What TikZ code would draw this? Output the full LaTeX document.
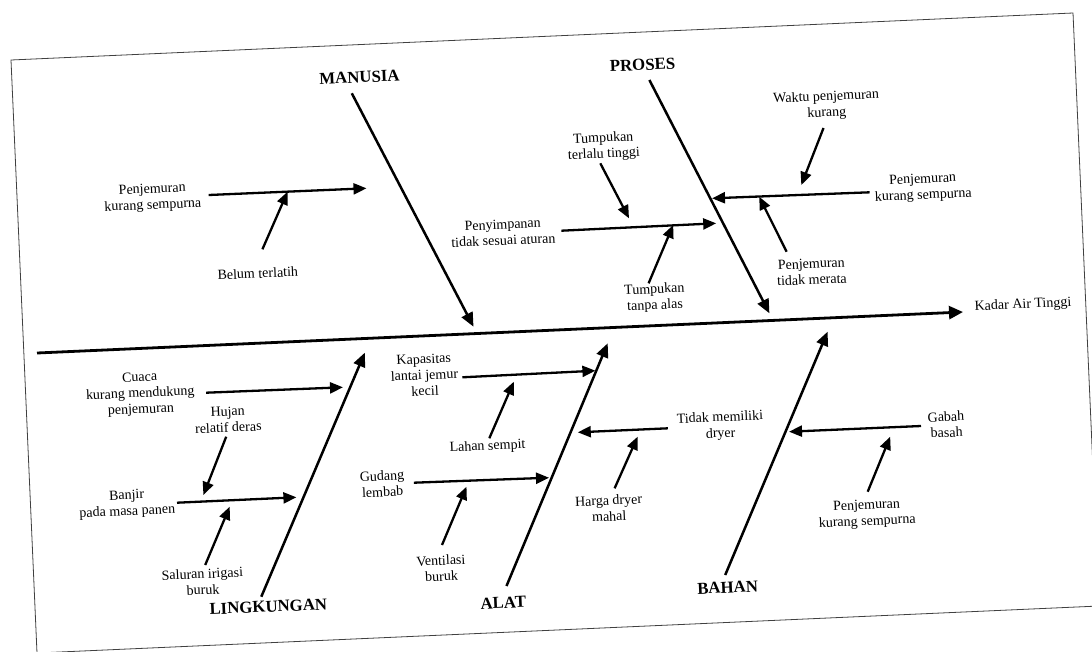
\documentclass[tikz,border=0pt]{standalone}
\usepackage{fontspec}
\setmainfont{Liberation Serif}
\usetikzlibrary{arrows.meta}
\begin{document}
\begin{tikzpicture}[x=1pt,y=-1pt,
  lbl/.style={font=\fontsize{14}{16}\selectfont, align=center, rotate=2.5, inner sep=0pt},
  cat/.style={font=\fontsize{16.8}{19}\selectfont\bfseries, rotate=2.5, inner sep=0pt},
  arr/.style={line width=2.3pt, -{Triangle[length=13pt,width=11pt]}},
  bone/.style={line width=2.5pt, -{Triangle[length=14pt,width=12pt]}},
  spine/.style={line width=2.8pt, -{Triangle[length=14pt,width=13pt]}},
  framebox/.style={line width=0.8pt, draw=black!75}]
\useasboundingbox (0,0) rectangle (1092,651);
\clip (0,0) rectangle (1092,651);
\fill[white] (0,0) rectangle (1092,651);
% frame
\draw[framebox] (11,60) -- (1073,13) -- (1099,606) -- (37,653) -- cycle;

% category labels
\node[cat] (manusia) at (359.5,77.3) {MANUSIA};
\node[cat] (proses) at (642.5,65) {PROSES};
\node[cat] (lingkungan) at (268.3,606.7) {LINGKUNGAN};
\node[cat] (alat) at (503.3,602.7) {ALAT};
\node[cat] (bahan) at (727.6,587.3) {BAHAN};
\node[lbl] (kadar) at (1023,305) {Kadar Air Tinggi};

% cause labels
\node[lbl] (m1) at (152.6,198) {Penjemuran\\kurang sempurna};
\node[lbl] (m2) at (257.8,273.3) {Belum terlatih};
\node[lbl] (p1) at (503,232.5) {Penyimpanan\\tidak sesuai aturan};
\node[lbl] (p2) at (603.6,146.7) {Tumpukan\\terlalu tinggi};
\node[lbl] (p3) at (654.7,298) {Tumpukan\\tanpa alas};
\node[lbl] (p4) at (826.5,105.3) {Waktu penjemuran\\kurang};
\node[lbl] (p5) at (923,188) {Penjemuran\\kurang sempurna};
\node[lbl] (p6) at (811.6,271.7) {Penjemuran\\tidak merata};
\node[lbl] (l1) at (140.3,394.3) {Cuaca\\kurang mendukung\\penjemuran};
\node[lbl] (l2) at (228,419.5) {Hujan\\relatif deras};
\node[lbl] (l3) at (127,504.2) {Banjir\\pada masa panen};
\node[lbl] (l4) at (202.7,581.7) {Saluran irigasi\\buruk};
\node[lbl] (a1) at (424.4,375) {Kapasitas\\lantai jemur\\kecil};
\node[lbl] (a2) at (487.5,446.7) {Lahan sempit};
\node[lbl] (a3) at (382.3,483.8) {Gudang\\lembab};
\node[lbl] (a4) at (441.2,568.3) {Ventilasi\\buruk};
\node[lbl] (a5) at (720.3,426.2) {Tidak memiliki\\dryer};
\node[lbl] (a6) at (608.9,508.3) {Harga dryer\\mahal};
\node[lbl] (b1) at (946.3,424.5) {Gabah\\basah};
\node[lbl] (b2) at (866.9,514.2) {Penjemuran\\kurang sempurna};

% coordinates
\coordinate (sp0) at (37,353);  \coordinate (sp1) at (963,312);
\coordinate (mb0) at (351.8,93.3); \coordinate (mb1) at (473.5,326.7);
\coordinate (pb0) at (649.4,80); \coordinate (pb1) at (769.4,313.3);
\coordinate (lb0) at (261.3,596.7); \coordinate (lb1) at (364.8,352.7);
\coordinate (ab0) at (506.5,586); \coordinate (ab1) at (607.7,343.3);
\coordinate (bb0) at (725.2,575); \coordinate (bb1) at (827.6,331.7);
\coordinate (m1a) at (208.7,195); \coordinate (m1b) at (366.5,188.3);
\coordinate (m2a) at (262.4,249.3); \coordinate (m2b) at (287.6,191.7);
\coordinate (p1a) at (561.4,230.7); \coordinate (p1b) at (716.2,223.3);
\coordinate (p2a) at (600.3,163.3); \coordinate (p2b) at (629,218.3);
\coordinate (p3a) at (648.6,283.3); \coordinate (p3b) at (673.2,225);
\coordinate (p4a) at (823.5,128); \coordinate (p4b) at (801.3,185);
\coordinate (p5a) at (869.7,192.3); \coordinate (p5b) at (712,198.3);
\coordinate (p6a) at (786.6,251.7); \coordinate (p6b) at (759.2,196.7);
\coordinate (l1a) at (206.2,392.7); \coordinate (l1b) at (343,387.3);
\coordinate (l2a) at (226.2,436.7); \coordinate (l2b) at (203.4,495);
\coordinate (l3a) at (177,502.7); \coordinate (l3b) at (296.4,497.3);
\coordinate (l4a) at (205.2,565); \coordinate (l4b) at (229.7,506.7);
\coordinate (a1a) at (462.3,377.3); \coordinate (a1b) at (595.4,370.7);
\coordinate (a2a) at (489.3,438.3); \coordinate (a2b) at (513.8,381.7);
\coordinate (a3a) at (413.9,482.7); \coordinate (a3b) at (549,477.7);
\coordinate (a4a) at (442,545); \coordinate (a4b) at (466.5,486.7);
\coordinate (a5a) at (667.9,428.3); \coordinate (a5b) at (577.8,432.3);
\coordinate (a6a) at (614.6,488.3); \coordinate (a6b) at (637.6,436.7);
\coordinate (b1a) at (921,426); \coordinate (b1b) at (789,431.7);
\coordinate (b2a) at (867.7,491.7); \coordinate (b2b) at (890.2,436.7);

% spine and bones
\draw[spine] (sp0) -- (sp1);
\draw[bone] (mb0) -- (mb1);
\draw[bone] (pb0) -- (pb1);
\draw[bone] (lb0) -- (lb1);
\draw[bone] (ab0) -- (ab1);
\draw[bone] (bb0) -- (bb1);

% causes
\foreach \c in {m1,m2,p1,p2,p3,p4,p5,p6,l1,l2,l3,l4,a1,a2,a3,a4,a5,a6,b1,b2}
  \draw[arr] (\c a) -- (\c b);
\end{tikzpicture}
\end{document}
